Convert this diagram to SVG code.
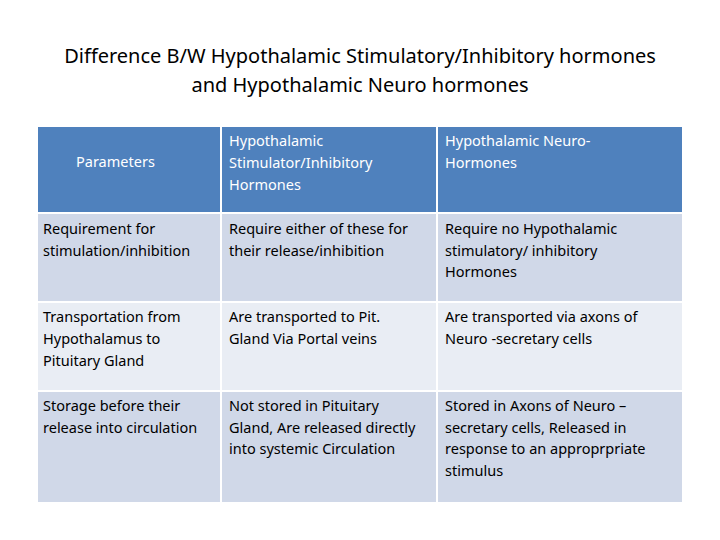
<svg xmlns="http://www.w3.org/2000/svg" width="720" height="540" viewBox="0 0 720 540">
<style>
text{font-family:"Noto Sans","Liberation Sans",sans-serif;font-size:14.5px;fill:#000}
.h{fill:#fff}
.t{font-size:20px;text-anchor:middle}
.hd{fill:#4F81BD}.a{fill:#D0D8E8}.b{fill:#E9EDF4}
rect{stroke:#fff;stroke-width:2}
</style>
<rect width="720" height="540" fill="#fff" stroke="none"/>
<text class="t" x="360" y="63">Difference B/W Hypothalamic Stimulatory/Inhibitory hormones</text>
<text class="t" x="360" y="92">and Hypothalamic Neuro hormones</text>
<g id="header">
<rect class="hd" x="37" y="126" width="184" height="87"/>
<rect class="hd" x="221" y="126" width="216" height="87"/>
<rect class="hd" x="437" y="126" width="246" height="87"/>
<text class="h" x="76" y="167">Parameters</text>
<text class="h" x="229" y="146">Hypothalamic</text>
<text class="h" x="229" y="168">Stimulator/Inhibitory</text>
<text class="h" x="229" y="190">Hormones</text>
<text class="h" x="445" y="146">Hypothalamic Neuro-</text>
<text class="h" x="445" y="168">Hormones</text>
</g>
<g id="row1">
<rect class="a" x="37" y="213" width="184" height="89"/>
<rect class="a" x="221" y="213" width="216" height="89"/>
<rect class="a" x="437" y="213" width="246" height="89"/>
<text x="43" y="234">Requirement for</text>
<text x="43" y="256">stimulation/inhibition</text>
<text x="229" y="234">Require either of these for</text>
<text x="229" y="256">their release/inhibition</text>
<text x="445" y="234">Require no Hypothalamic</text>
<text x="445" y="256">stimulatory/ inhibitory</text>
<text x="445" y="277">Hormones</text>
</g>
<g id="row2">
<rect class="b" x="37" y="302" width="184" height="89"/>
<rect class="b" x="221" y="302" width="216" height="89"/>
<rect class="b" x="437" y="302" width="246" height="89"/>
<text x="43" y="322">Transportation from</text>
<text x="43" y="344">Hypothalamus to</text>
<text x="43" y="366">Pituitary Gland</text>
<text x="229" y="322">Are transported to Pit.</text>
<text x="229" y="344">Gland Via Portal veins</text>
<text x="445" y="322">Are transported via  axons of</text>
<text x="445" y="344">Neuro -secretary cells</text>
</g>
<g id="row3">
<rect class="a" x="37" y="391" width="184" height="112"/>
<rect class="a" x="221" y="391" width="216" height="112"/>
<rect class="a" x="437" y="391" width="246" height="112"/>
<text x="43" y="411">Storage before their</text>
<text x="43" y="433">release into circulation</text>
<text x="229" y="411">Not stored in Pituitary</text>
<text x="229" y="433">Gland, Are released directly</text>
<text x="229" y="454">into systemic Circulation</text>
<text x="445" y="411">Stored in Axons of Neuro –</text>
<text x="445" y="433">secretary cells,  Released in</text>
<text x="445" y="454">response to an approprpriate</text>
<text x="445" y="476">stimulus</text>
</g>
</svg>
